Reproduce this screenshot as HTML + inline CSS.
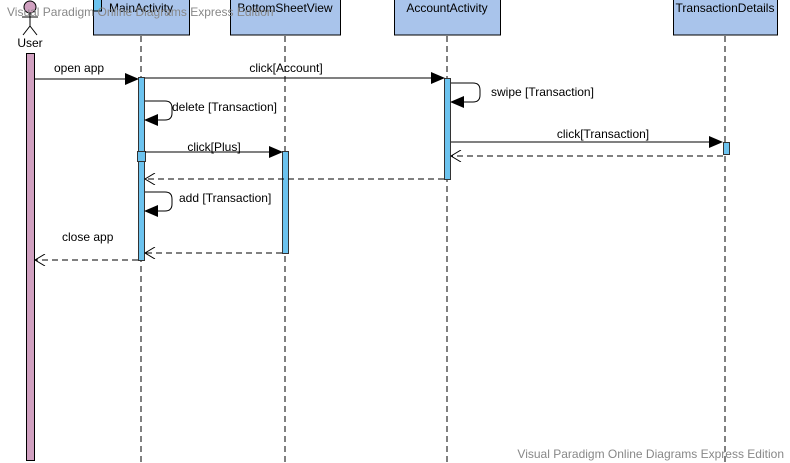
<!DOCTYPE html>
<html><head><meta charset="utf-8"><style>
html,body{margin:0;padding:0;background:#fff;width:790px;height:463px;overflow:hidden}
text{font-family:"Liberation Sans",Arial,sans-serif;font-size:12px;fill:#000}
</style></head><body>
<svg width="790" height="463" xmlns="http://www.w3.org/2000/svg">
<defs>
<marker id="f" markerWidth="14" markerHeight="12" refX="13" refY="6" orient="auto" markerUnits="userSpaceOnUse"><path d="M0,0 L14,6 L0,12 z" fill="#000"/></marker>
<marker id="o" markerWidth="12" markerHeight="12" refX="11" refY="6" orient="auto" markerUnits="userSpaceOnUse"><path d="M1,0 L11,6 L1,12" fill="none" stroke="#000"/></marker>
</defs>
<g stroke="#000" stroke-dasharray="6,4" stroke-width="1">
<line x1="141" y1="36" x2="141" y2="463"/>
<line x1="285" y1="36" x2="285" y2="463"/>
<line x1="447" y1="36" x2="447" y2="463"/>
<line x1="725" y1="36" x2="725" y2="463"/>
</g>
<g fill="#a9c4eb" stroke="#000">
<rect x="93.5" y="-1" width="96" height="36"/>
<rect x="230.5" y="-1" width="110" height="36"/>
<rect x="394.5" y="-1" width="106" height="36"/>
<rect x="673.5" y="-1" width="104" height="36"/>
</g>
<rect x="93.5" y="-1" width="8" height="12" fill="#6cc3ef" stroke="#000"/>
<text x="141" y="12" text-anchor="middle">MainActivity</text>
<text x="285" y="12" text-anchor="middle">BottomSheetView</text>
<text x="447" y="12" text-anchor="middle">AccountActivity</text>
<text x="725" y="12" text-anchor="middle">TransactionDetails</text>
<circle cx="30" cy="7" r="6" fill="#d0a0c0" stroke="#000"/>
<g stroke="#000" fill="none"><line x1="30" y1="13" x2="30" y2="26"/><line x1="22" y1="17" x2="38" y2="17"/><line x1="30" y1="26" x2="23" y2="35"/><line x1="30" y1="26" x2="37" y2="35"/></g>
<text x="30" y="47" text-anchor="middle">User</text>
<rect x="26.5" y="53.5" width="8" height="407" fill="#d0a0c0" stroke="#000"/>
<g fill="#6cc3ef" stroke="#333">
<rect x="138.5" y="77.5" width="6" height="183"/>
<rect x="137.5" y="151.5" width="8" height="10" fill="#6cc3ef"/>
<rect x="444.5" y="78.5" width="6" height="101"/>
<rect x="282.5" y="151.5" width="6" height="102"/>
<rect x="723.5" y="142.5" width="6" height="12"/>
</g>
<g stroke="#000" fill="none">
<line x1="35" y1="79" x2="138" y2="79" marker-end="url(#f)"/>
<line x1="145" y1="78" x2="444" y2="78" marker-end="url(#f)"/>
<path d="M145,101 H165 Q172,101 172,108 V113 Q172,120 165,120 H145" marker-end="url(#f)"/>
<path d="M451,83 H473 Q480,83 480,90 V95 Q480,102 473,102 H451" marker-end="url(#f)"/>
<line x1="451" y1="142" x2="722" y2="142" marker-end="url(#f)"/>
<line x1="723" y1="156" x2="451" y2="156" stroke-dasharray="6,4" marker-end="url(#o)"/>
<line x1="145" y1="152" x2="282" y2="152" marker-end="url(#f)"/>
<line x1="444" y1="179" x2="145" y2="179" stroke-dasharray="6,4" marker-end="url(#o)"/>
<path d="M145,192 H165 Q172,192 172,199 V204 Q172,211 165,211 H145" marker-end="url(#f)"/>
<line x1="282" y1="253" x2="145" y2="253" stroke-dasharray="6,4" marker-end="url(#o)"/>
<line x1="138" y1="260" x2="35" y2="260" stroke-dasharray="6,4" marker-end="url(#o)"/>
</g>
<text x="54" y="72">open app</text>
<text x="286" y="72" text-anchor="middle">click[Account]</text>
<text x="172" y="111">delete [Transaction]</text>
<text x="491" y="96">swipe [Transaction]</text>
<text x="603" y="138" text-anchor="middle">click[Transaction]</text>
<text x="214" y="151" text-anchor="middle">click[Plus]</text>
<text x="179" y="202">add [Transaction]</text>
<text x="62" y="241">close app</text>
<text x="7" y="16" style="fill:#888">Visual Paradigm Online Diagrams Express Edition</text>
<text x="784" y="458" text-anchor="end" style="fill:#888">Visual Paradigm Online Diagrams Express Edition</text>
</svg>
</body></html>
